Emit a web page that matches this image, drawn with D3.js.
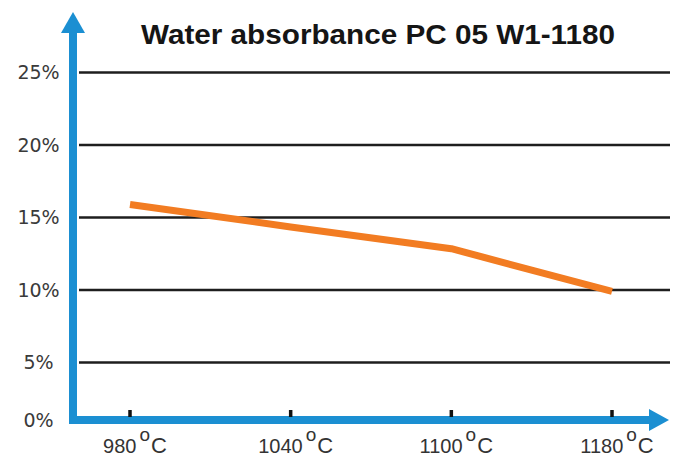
<!DOCTYPE html>
<html>
<head>
<meta charset="utf-8">
<script src="https://cdn.jsdelivr.net/npm/d3@7"></script>
<style>
  html, body { margin: 0; padding: 0; background: #fff; }
  svg { display: block; }
  .title { font-family: "Liberation Sans", Arial, sans-serif; font-weight: bold; font-size: 27px; fill: #151515; }
  .ylab { font-family: "DejaVu Sans", sans-serif; font-size: 19px; fill: #3a3a3a; }
  .xlab { font-family: "Liberation Sans", Arial, sans-serif; font-size: 20px; fill: #333; }
</style>
</head>
<body>
<svg width="675" height="459"></svg>
<script>
// data
const temps = ["980", "1040", "1100", "1180"];
const absorbance = [15.9, 14.35, 12.85, 9.9];
const yTicks = [0, 5, 10, 15, 20, 25];

const W = 675, H = 459;
const axisColor = "#1b8fd2";
const svg = d3.select("svg");

// the 0% baseline sits closer to 5% than the other steps, so use a piecewise scale
const y = d3.scaleLinear().domain([0, 5, 25]).range([420, 362.5, 72.5]);
const x = d3.scalePoint().domain(temps).range([130, 612]);
const axisX = 73;

// title
svg.append("text")
    .attr("class", "title")
    .attr("x", 378)
    .attr("y", 44)
    .attr("text-anchor", "middle")
    .attr("textLength", 474)
    .attr("lengthAdjust", "spacingAndGlyphs")
    .text("Water absorbance PC 05 W1-1180");

// gridlines
svg.append("g")
    .selectAll("line")
    .data(yTicks.filter(d => d > 0))
    .enter()
    .append("line")
    .attr("x1", 79)
    .attr("x2", 670)
    .attr("y1", d => y(d))
    .attr("y2", d => y(d))
    .attr("stroke", "#1e1e1e")
    .attr("stroke-width", 2.5);

// y labels
svg.append("g")
    .selectAll("text")
    .data(yTicks)
    .enter()
    .append("text")
    .attr("class", "ylab")
    .attr("x", 38.5)
    .attr("y", d => y(d))
    .attr("dy", "0.36em")
    .attr("text-anchor", "middle")
    .text(d => d + "%");

// data line
const line = d3.line()
    .x((d, i) => x(temps[i]))
    .y(d => y(d));

svg.append("path")
    .datum(absorbance)
    .attr("d", line)
    .attr("fill", "none")
    .attr("stroke", "#f27c22")
    .attr("stroke-width", 7)
    .attr("stroke-linejoin", "round");

// axes (blue arrows)
const yBottom = y(0);
svg.append("line")
    .attr("x1", axisX).attr("x2", axisX)
    .attr("y1", yBottom + 4).attr("y2", 30)
    .attr("stroke", axisColor).attr("stroke-width", 8);
svg.append("path")
    .attr("d", `M${axisX - 12},33 L${axisX},12 L${axisX + 12},33 Z`)
    .attr("fill", axisColor);

svg.append("line")
    .attr("x1", axisX - 4).attr("x2", 652)
    .attr("y1", yBottom).attr("y2", yBottom)
    .attr("stroke", axisColor).attr("stroke-width", 8);
svg.append("path")
    .attr("d", `M649,${yBottom - 11} L669,${yBottom} L649,${yBottom + 11} Z`)
    .attr("fill", axisColor);

// ticks
svg.append("g")
    .selectAll("rect")
    .data(temps)
    .enter()
    .append("rect")
    .attr("x", d => x(d) - 1.75)
    .attr("y", yBottom - 10)
    .attr("width", 3.5)
    .attr("height", 7)
    .attr("fill", "#111");

// x labels with superscript o
const xl = svg.append("g")
    .selectAll("text")
    .data(temps)
    .enter()
    .append("text")
    .attr("class", "xlab")
    .attr("x", d => x(d) + 5)
    .attr("y", 453)
    .attr("text-anchor", "middle");
xl.append("tspan").text(d => d);
xl.append("tspan").attr("dx", 3).attr("dy", -12).attr("font-size", 19).text("o");
xl.append("tspan").attr("dx", 1).attr("dy", 12).attr("font-size", 22).text("C");
</script>
</body>
</html>
